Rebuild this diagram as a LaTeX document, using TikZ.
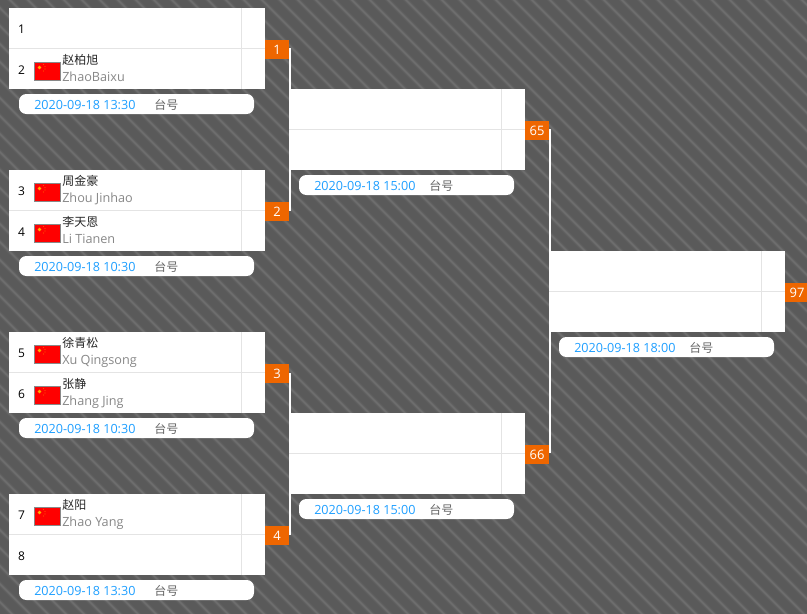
\documentclass[tikz,border=0pt]{standalone}
\usepackage{fontspec}
\setmainfont{Open Sans}
\newfontfamily\cjk{Noto Sans CJK SC}
\definecolor{bgdark}{HTML}{5A5A5A}
\definecolor{bgsoft}{HTML}{616161}
\definecolor{bgstripe}{HTML}{6E6E6E}
\definecolor{badge}{HTML}{EE6600}
\definecolor{rule}{HTML}{E4E4E4}
\definecolor{datecol}{HTML}{1E9FFF}
\definecolor{tablecol}{HTML}{666666}
\definecolor{pinyin}{HTML}{888888}
\definecolor{flagred}{HTML}{FF0000}
\definecolor{flagstar}{HTML}{FFB000}
\tikzset{
  panel/.style={fill=white,draw=none,minimum height=81*0.75pt,inner sep=0pt,outer sep=0pt,anchor=north west},
  badgebox/.style={fill=badge,text=white,font=\fontsize{9.75pt}{11pt}\selectfont,minimum width=24*0.75pt,minimum height=19*0.75pt,inner sep=0pt,outer sep=0pt,anchor=north west},
  pill/.style={fill=white,rounded corners=5.5pt,minimum height=20*0.75pt,inner sep=0pt,outer sep=0pt,anchor=north west},
  link/.style={draw=white,line width=1.5pt},
  gridline/.style={draw=rule,line width=0.75pt},
  seed/.style={anchor=center,text=black,font=\fontsize{9pt}{11pt}\selectfont,inner sep=0pt},
  cnname/.style={anchor=base west,text=black!85,font=\cjk\fontsize{9pt}{11pt}\selectfont,inner sep=0pt},
  enname/.style={anchor=base west,text=pinyin,font=\fontsize{9.5pt}{11pt}\selectfont,inner sep=0pt},
  datelabel/.style={anchor=base west,text=datecol,font=\fontsize{9.45pt}{11pt}\selectfont,inner sep=0pt},
  tablelabel/.style={anchor=base west,text=tablecol,font=\cjk\fontsize{9pt}{11pt}\selectfont,inner sep=0pt},
}
\newcommand{\drawflag}[2]{%
  \begin{scope}[shift={(#1,#2)}]
    \fill[pinyin] (0,0) rectangle (27,19);
    \fill[flagred] (1,1) rectangle (26,18);
    \fill[flagstar] (5.5,5.5) circle[radius=1.9];
    \fill[flagstar!45!flagred] (9.5,2.5) circle[radius=0.6] (11,4.5) circle[radius=0.6] (11,7) circle[radius=0.6] (9.5,9) circle[radius=0.6];
  \end{scope}}
\newcommand{\matchpanel}[7]{%
  % #1 name, #2 x, #3 y, #4 badge, #5 date, #6 tag offset, #7 panel width
  \node[panel,minimum width=#7*0.75pt] (#1) at (#2,#3) {};
  \draw[gridline] (#2,#3+40.5) -- (#2+#7,#3+40.5);
  \draw[gridline] (#2+#7-23.5,#3) -- (#2+#7-23.5,#3+81);
  \node[badgebox] (#1b) at (#2+#7,#3+32) {#4};
  \node[pill,minimum width={(#7-21)*0.75pt}] (#1p) at (#2+10,#3+86) {};
  \node[datelabel] at (#2+25,#3+101) {#5};
  \node[tablelabel] at (#2+#6,#3+101) {台号};
}
\begin{document}
\begin{tikzpicture}[x=0.75pt,y=-0.75pt]
\useasboundingbox (0,0) rectangle (807,614);
\fill[bgdark] (0,0) rectangle (807,614);
\begin{scope}
  \clip (0,0) rectangle (807,614);
  \foreach \k in {-643,-625,...,820} {
    \draw[bgsoft,line width=3pt] (\k,-5) -- (\k+624,619);
    \draw[bgstripe,line width=1.2pt] (\k,-5) -- (\k+624,619);
  }
\end{scope}

% connectors lie behind the panels
\coordinate (c1) at (290,48);
\coordinate (c2) at (290,211);
\coordinate (c3) at (290,373);
\coordinate (c4) at (290,535);
\coordinate (c5) at (550,129);
\coordinate (c6) at (550,453);
\draw[link] (c1) -- (c2);
\draw[link] (c3) -- (c4);
\draw[link] (c5) -- (c6);

\matchpanel{m1}{9}{8}{1}{2020-09-18 13:30}{145}{256}
\matchpanel{m2}{9}{170}{2}{2020-09-18 10:30}{145}{256}
\matchpanel{m3}{9}{332}{3}{2020-09-18 10:30}{145}{256}
\matchpanel{m4}{9}{494}{4}{2020-09-18 13:30}{145}{256}
\matchpanel{m65}{289}{89}{65}{2020-09-18 15:00}{140}{236}
\matchpanel{m66}{289}{413}{66}{2020-09-18 15:00}{140}{236}
\matchpanel{m97}{549}{251}{97}{2020-09-18 18:00}{140}{236}

\node[seed] (s1) at (21.5,29) {1};
\node[seed] (s2) at (21.5,70) {2};
\node[seed] (s3) at (21.5,191) {3};
\node[seed] (s4) at (21.5,232) {4};
\node[seed] (s5) at (21.5,353) {5};
\node[seed] (s6) at (21.5,394) {6};
\node[seed] (s7) at (21.5,515) {7};
\node[seed] (s8) at (21.5,556) {8};

\drawflag{34}{62}
\drawflag{34}{183}
\drawflag{34}{224}
\drawflag{34}{345}
\drawflag{34}{386}
\drawflag{34}{507}

\node[cnname] (n2) at (62,64) {赵柏旭};
\node[enname] (e2) at (62,81) {ZhaoBaixu};
\node[cnname] (n3) at (62,185) {周金豪};
\node[enname] (e3) at (62,202) {Zhou Jinhao};
\node[cnname] (n4) at (62,226) {李天恩};
\node[enname] (e4) at (62,243) {Li Tianen};
\node[cnname] (n5) at (62,347) {徐青松};
\node[enname] (e5) at (62,364) {Xu Qingsong};
\node[cnname] (n6) at (62,388) {张静};
\node[enname] (e6) at (62,405) {Zhang Jing};
\node[cnname] (n7) at (62,509) {赵阳};
\node[enname] (e7) at (62,526) {Zhao Yang};
\end{tikzpicture}
\end{document}
